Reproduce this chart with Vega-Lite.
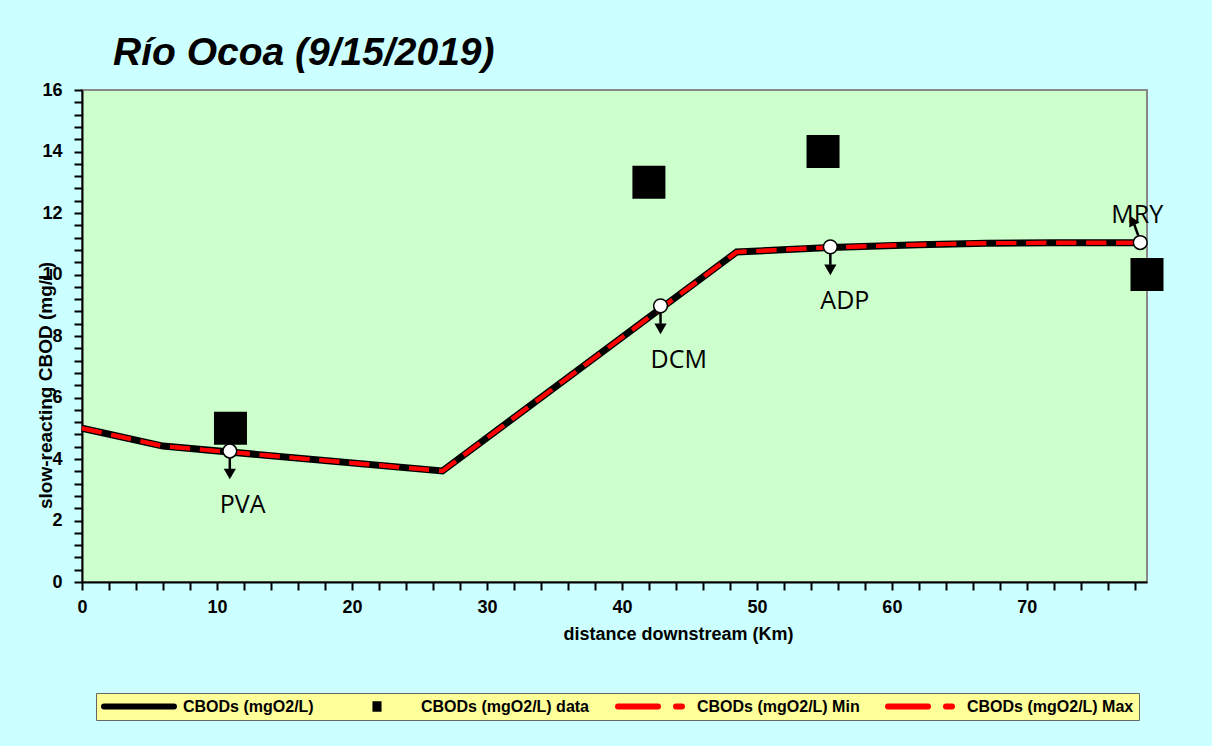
{
  "$schema": "https://vega.github.io/schema/vega-lite/v6.json",
  "width": 1065,
  "height": 492,
  "autosize": {"type": "none"},
  "padding": {"left": 82, "top": 90, "right": 65, "bottom": 164},
  "background": "#CCFFFF",
  "view": {"fill": "#CCFFCC", "stroke": "#888888", "strokeWidth": 2},
  "title": {
    "text": "Río Ocoa (9/15/2019)",
    "anchor": "start",
    "frame": "group",
    "dx": 31,
    "offset": 8,
    "font": "Liberation Sans",
    "fontSize": 39,
    "fontStyle": "italic",
    "fontWeight": "bold",
    "color": "#000000"
  },
  "datasets": {
    "model": [
      {"series": "CBODs (mgO2/L)", "km": 0, "cbod": 5.0},
      {"series": "CBODs (mgO2/L)", "km": 6, "cbod": 4.42},
      {"series": "CBODs (mgO2/L)", "km": 26.7, "cbod": 3.61},
      {"series": "CBODs (mgO2/L)", "km": 48.5, "cbod": 10.73},
      {"series": "CBODs (mgO2/L)", "km": 55.4, "cbod": 10.88},
      {"series": "CBODs (mgO2/L)", "km": 62, "cbod": 10.97},
      {"series": "CBODs (mgO2/L)", "km": 67, "cbod": 11.02},
      {"series": "CBODs (mgO2/L)", "km": 72, "cbod": 11.03},
      {"series": "CBODs (mgO2/L)", "km": 78.9, "cbod": 11.03},
      {"series": "CBODs (mgO2/L) Min", "km": 0, "cbod": 5.0},
      {"series": "CBODs (mgO2/L) Min", "km": 6, "cbod": 4.42},
      {"series": "CBODs (mgO2/L) Min", "km": 26.7, "cbod": 3.61},
      {"series": "CBODs (mgO2/L) Min", "km": 48.5, "cbod": 10.73},
      {"series": "CBODs (mgO2/L) Min", "km": 55.4, "cbod": 10.88},
      {"series": "CBODs (mgO2/L) Min", "km": 62, "cbod": 10.97},
      {"series": "CBODs (mgO2/L) Min", "km": 67, "cbod": 11.02},
      {"series": "CBODs (mgO2/L) Min", "km": 72, "cbod": 11.03},
      {"series": "CBODs (mgO2/L) Min", "km": 78.9, "cbod": 11.03},
      {"series": "CBODs (mgO2/L) Max", "km": 0, "cbod": 5.0},
      {"series": "CBODs (mgO2/L) Max", "km": 6, "cbod": 4.42},
      {"series": "CBODs (mgO2/L) Max", "km": 26.7, "cbod": 3.61},
      {"series": "CBODs (mgO2/L) Max", "km": 48.5, "cbod": 10.73},
      {"series": "CBODs (mgO2/L) Max", "km": 55.4, "cbod": 10.88},
      {"series": "CBODs (mgO2/L) Max", "km": 62, "cbod": 10.97},
      {"series": "CBODs (mgO2/L) Max", "km": 67, "cbod": 11.02},
      {"series": "CBODs (mgO2/L) Max", "km": 72, "cbod": 11.03},
      {"series": "CBODs (mgO2/L) Max", "km": 78.9, "cbod": 11.03}
    ],
    "obs": [
      {"series": "CBODs (mgO2/L) data", "km": 11.0, "cbod": 5.0},
      {"series": "CBODs (mgO2/L) data", "km": 42.0, "cbod": 13.0},
      {"series": "CBODs (mgO2/L) data", "km": 54.9, "cbod": 14.0},
      {"series": "CBODs (mgO2/L) data", "km": 78.9, "cbod": 10.0}
    ],
    "stations": [
      {"station": "PVA", "km": 10.95, "cbod": 4.26},
      {"station": "DCM", "km": 42.86, "cbod": 8.98},
      {"station": "ADP", "km": 55.44, "cbod": 10.9},
      {"station": "MRY", "km": 78.4, "cbod": 11.04}
    ]
  },
  "encoding": {
    "x": {
      "field": "km",
      "type": "quantitative",
      "scale": {"domain": [0, 78.9], "nice": false, "zero": false},
      "axis": {
        "title": "distance downstream (Km)",
        "values": [0,2,4,6,8,10,12,14,16,18,20,22,24,26,28,30,32,34,36,38,40,42,44,46,48,50,52,54,56,58,60,62,64,66,68,70,72,74,76,78],
        "labelExpr": "datum.value % 10 === 0 ? datum.label : ''",
        "format": "d",
        "grid": false,
        "domainColor": "#000000",
        "domainWidth": 2,
        "tickColor": "#000000",
        "tickWidth": 2,
        "tickSize": 8,
        "labelPadding": 8,
        "labelFont": "Liberation Sans",
        "labelFontSize": 18,
        "labelFontWeight": "bold",
        "labelColor": "#000000",
        "labelFlush": false,
        "labelOverlap": false,
        "titleFont": "Liberation Sans",
        "titleFontSize": 18,
        "titleFontWeight": "bold",
        "titleColor": "#000000",
        "titleX": 596,
        "titleY": 57,
        "titleBaseline": "alphabetic",
        "titleAlign": "center",
        "encode": {
          "ticks": {"update": {"y": {"value": -5}, "y2": {"signal": "datum.value % 10 === 0 ? 8 : 0"}}}
        }
      }
    },
    "y": {
      "field": "cbod",
      "type": "quantitative",
      "scale": {"domain": [0, 16], "nice": false},
      "axis": {
        "title": "slow-reacting CBOD (mg/L)",
        "values": [0,0.4,0.8,1.2,1.6,2,2.4,2.8,3.2,3.6,4,4.4,4.8,5.2,5.6,6,6.4,6.8,7.2,7.6,8,8.4,8.8,9.2,9.6,10,10.4,10.8,11.2,11.6,12,12.4,12.8,13.2,13.6,14,14.4,14.8,15.2,15.6,16],
        "labelExpr": "datum.value % 2 === 0 ? format(datum.value, 'd') : ''",
        "grid": false,
        "domainColor": "#000000",
        "domainWidth": 2,
        "tickColor": "#000000",
        "tickWidth": 2,
        "tickSize": 8,
        "labelPadding": 12,
        "labelFont": "Liberation Sans",
        "labelFontSize": 18,
        "labelFontWeight": "bold",
        "labelColor": "#000000",
        "labelFlush": false,
        "labelOverlap": false,
        "titleFont": "Liberation Sans",
        "titleFontSize": 19,
        "titleFontWeight": "bold",
        "titleColor": "#000000",
        "titleX": -31,
        "titleY": 295,
        "titleAngle": -90,
        "titleBaseline": "alphabetic",
        "titleAlign": "center",
        "encode": {
          "ticks": {"update": {"x": {"value": 5}, "x2": {"signal": "datum.value % 2 === 0 ? -8 : 0"}}}
        }
      }
    }
  },
  "layer": [
    {
      "data": {"name": "model"},
      "transform": [{"filter": "datum.series === 'CBODs (mgO2/L)'"}],
      "mark": {"type": "line", "strokeWidth": 7, "strokeJoin": "miter"},
      "encoding": {
        "color": {
          "field": "series",
          "type": "nominal",
          "scale": {
            "domain": ["CBODs (mgO2/L)", "CBODs (mgO2/L) data", "CBODs (mgO2/L) Min", "CBODs (mgO2/L) Max"],
            "range": ["#000000", "#000000", "#FF0000", "#FF0000"]
          },
          "legend": {
            "title": null,
            "orient": "none",
            "legendX": 14,
            "legendY": 603,
            "direction": "horizontal",
            "columns": 4,
            "columnPadding": 25,
            "fillColor": "#FFFF99",
            "strokeColor": "#666666",
            "padding": 5,
            "clipHeight": 17,
            "symbolSize": 4900,
            "symbolStrokeWidth": 6,
            "labelFont": "Liberation Sans",
            "labelFontSize": 16,
            "labelFontWeight": "bold",
            "labelColor": "#000000",
            "labelOffset": 6,
            "labelLimit": 0,
            "encode": {
              "symbols": {
                "update": {
                  "shape": {"signal": "datum.value === 'CBODs (mgO2/L) data' ? 'M-0.13,-0.15H0.13V0.15H-0.13Z' : 'stroke'"},
                  "fill": {"value": "#000000"},
                  "fillOpacity": {"signal": "datum.value === 'CBODs (mgO2/L) data' ? 1 : 0"},
                  "stroke": {"signal": "(datum.value === 'CBODs (mgO2/L) Min' || datum.value === 'CBODs (mgO2/L) Max') ? '#FF0000' : '#000000'"},
                  "strokeOpacity": {"signal": "datum.value === 'CBODs (mgO2/L) data' ? 0 : 1"},
                  "strokeDash": {"signal": "(datum.value === 'CBODs (mgO2/L) Min' || datum.value === 'CBODs (mgO2/L) Max') ? [40, 18, 6, 40] : [1, 0]"},
                  "strokeCap": {"value": "round"},
                  "opacity": {"value": 1}
                }
              }
            }
          }
        }
      }
    },
    {
      "data": {"name": "model"},
      "transform": [{"filter": "datum.series !== 'CBODs (mgO2/L)'"}],
      "mark": {"type": "line", "strokeWidth": 4, "strokeDash": [20, 10], "strokeJoin": "miter"},
      "encoding": {
        "color": {"field": "series", "type": "nominal"}
      }
    },
    {
      "data": {"name": "obs"},
      "mark": {"type": "point", "shape": "square", "filled": true, "size": 1089, "opacity": 1, "clip": false},
      "encoding": {
        "color": {"field": "series", "type": "nominal"}
      }
    },
    {
      "data": {"name": "stations"},
      "transform": [{"filter": "datum.station !== 'MRY'"}],
      "mark": {"type": "rule", "yOffset": 7, "y2Offset": 18, "strokeWidth": 2.5, "color": "#000000"},
      "encoding": {
        "y2": {"field": "cbod"}
      }
    },
    {
      "data": {"name": "stations"},
      "transform": [{"filter": "datum.station !== 'MRY'"}],
      "mark": {"type": "point", "shape": "triangle-down", "filled": true, "size": 150, "yOffset": 23, "color": "#000000", "opacity": 1},
      "encoding": {}
    },
    {
      "data": {"name": "stations"},
      "transform": [{"filter": "datum.station === 'MRY'"}],
      "mark": {"type": "rule", "xOffset": -2, "yOffset": -7, "x2Offset": -6, "y2Offset": -18, "strokeWidth": 2.5, "color": "#000000"},
      "encoding": {
        "x2": {"field": "km"},
        "y2": {"field": "cbod"}
      }
    },
    {
      "data": {"name": "stations"},
      "transform": [{"filter": "datum.station === 'MRY'"}],
      "mark": {"type": "point", "shape": "triangle-up", "angle": -25, "filled": true, "size": 130, "xOffset": -8, "yOffset": -22, "color": "#000000", "opacity": 1},
      "encoding": {}
    },
    {
      "data": {"name": "stations"},
      "mark": {"type": "point", "shape": "circle", "filled": true, "fill": "#FFFFFF", "stroke": "#000000", "strokeWidth": 1.5, "size": 190, "opacity": 1, "clip": false},
      "encoding": {}
    },
    {
      "data": {"name": "stations"},
      "transform": [{"filter": "datum.station !== 'MRY'"}],
      "mark": {"type": "text", "align": "left", "baseline": "middle", "dx": -10, "dy": 54, "font": "Open Sans", "fontSize": 25, "color": "#000000"},
      "encoding": {
        "text": {"field": "station"}
      }
    },
    {
      "data": {"name": "stations"},
      "transform": [{"filter": "datum.station === 'MRY'"}],
      "mark": {"type": "text", "align": "center", "baseline": "middle", "dx": -3, "dy": -28, "font": "Open Sans", "fontSize": 25, "color": "#000000"},
      "encoding": {
        "text": {"field": "station"}
      }
    }
  ]
}
